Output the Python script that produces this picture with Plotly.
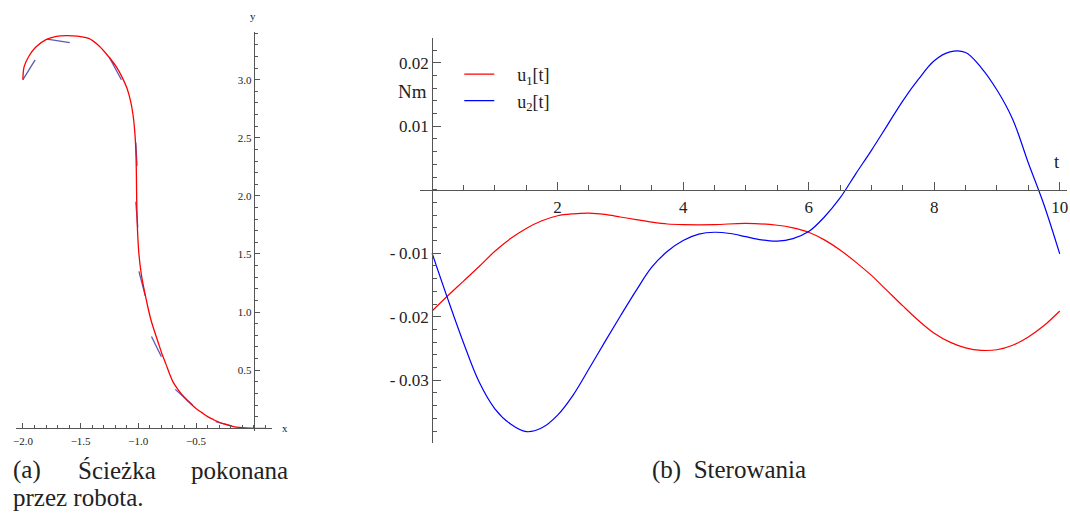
import plotly.graph_objects as go

W, H = 1070, 519

# ---------------- data: (a) path of the robot ----------------
path_x = [-2.0, -1.99, -1.95, -1.89, -1.80, -1.71, -1.625, -1.53, -1.43, -1.34,
          -1.255, -1.19, -1.14, -1.10, -1.068, -1.045, -1.03, -1.022, -1.018, -1.016,
          -1.013, -1.007, -0.995, -0.975, -0.955, -0.93, -0.89, -0.83, -0.795, -0.76,
          -0.73, -0.70, -0.65, -0.60, -0.55, -0.50, -0.45, -0.40, -0.35, -0.30,
          -0.25, -0.20, -0.15, -0.10, -0.05, 0.0]
path_y = [3.0, 3.11, 3.20, 3.28, 3.345, 3.373, 3.38, 3.375, 3.355, 3.29,
          3.195, 3.11, 3.02, 2.93, 2.82, 2.69, 2.54, 2.40, 2.25, 2.10,
          1.90, 1.70, 1.50, 1.33, 1.22, 1.10, 0.93, 0.745, 0.64, 0.55,
          0.47, 0.40, 0.325, 0.265, 0.215, 0.17, 0.135, 0.10, 0.075, 0.052,
          0.035, 0.021, 0.011, 0.005, 0.0015, 0.0]

# orientation segments (start / end)
seg_x0 = [-2.0, -1.79, -1.25, -1.022, -1.022, -0.995, -0.886, -0.68, -0.33, -0.16]
seg_y0 = [3.0, 3.35, 3.19, 2.46, 1.95, 1.35, 0.79, 0.335, 0.057, 0.0]
seg_x1 = [-1.894, -1.594, -1.147, -1.012, -1.005, -0.94, -0.80, -0.53, -0.19, 0.10]
seg_y1 = [3.17, 3.32, 3.0, 2.26, 1.73, 1.14, 0.615, 0.20, 0.02, 0.0]

left_xticks = [-2.0, -1.5, -1.0, -0.5]
left_xticklabels = ["\u22122.0", "\u22121.5", "\u22121.0", "\u22120.5"]
left_yticks = [0.5, 1.0, 1.5, 2.0, 2.5, 3.0]
left_yticklabels = ["0.5", "1.0", "1.5", "2.0", "2.5", "3.0"]

# ---------------- data: (b) controls ----------------
t_u1 = [0.0, 0.25, 0.5, 0.75, 1.0, 1.25, 1.5, 1.75, 2.0, 2.25, 2.5, 2.75, 3.0,
        3.25, 3.5, 3.75, 4.0, 4.5, 5.0, 5.5, 5.75, 6.0, 6.25, 6.5, 6.75, 7.0,
        7.25, 7.5, 7.75, 8.0, 8.25, 8.5, 8.75, 9.0, 9.25, 9.5, 9.75, 10.0]
u1 = [-0.0191, -0.0167, -0.0144, -0.0121, -0.0097, -0.0077, -0.0061, -0.0049,
      -0.0041, -0.0038, -0.0037, -0.0039, -0.0043, -0.0047, -0.0051, -0.0054,
      -0.0055, -0.0055, -0.0053, -0.0056, -0.0060, -0.0067, -0.0079, -0.0095,
      -0.0114, -0.0135, -0.0159, -0.0183, -0.0206, -0.0226, -0.0240, -0.0249,
      -0.0253, -0.0252, -0.0245, -0.0232, -0.0214, -0.0191]

t_u2 = [0.0, 0.25, 0.5, 0.75, 1.0, 1.25, 1.5, 1.75, 2.0, 2.25, 2.5, 2.75, 3.0,
        3.25, 3.5, 3.75, 4.0, 4.25, 4.5, 4.75, 5.0, 5.25, 5.5, 5.75, 6.0, 6.25,
        6.5, 6.75, 7.0, 7.25, 7.5, 7.75, 8.0, 8.25, 8.5, 8.75, 9.0, 9.25, 9.5,
        9.75, 10.0]
u2 = [-0.0100, -0.0172, -0.0241, -0.0303, -0.0345, -0.0369, -0.0381, -0.0375,
      -0.0355, -0.0323, -0.0282, -0.0240, -0.0199, -0.0159, -0.0122, -0.0097,
      -0.0080, -0.0070, -0.0067, -0.0069, -0.0074, -0.0079, -0.0081, -0.0077,
      -0.0066, -0.0043, -0.0013, 0.0025, 0.0062, 0.0101, 0.0140, 0.0174,
      0.0203, 0.0217, 0.0216, 0.0192, 0.0157, 0.0111, 0.0042, -0.0024, -0.0101]

right_xticks = [2, 4, 6, 8, 10]
right_xticklabels = ["2", "4", "6", "8", "10"]
right_yticks = [-0.03, -0.02, -0.01, 0.01, 0.02]
right_yticklabels = ["-\u20090.03", "-\u20090.02", "-\u20090.01", "0.01", "0.02"]

# ---------------- layout geometry (pixels) ----------------
LX0, LSX = 251.7, 115.85   # pixel of x=0, px per unit
LY0, LSY = 428.3, 116.2
L_xr = [-2.06, 0.16]
L_yr = [-0.02, 3.41]

RX0, RSX = 430.7, 63.0
RY0, RSY = 189.7, 6350.0
R_xr = [-0.2, 10.12]
R_yr = [-0.0399, 0.0239]

def xdom(x0, s, r):
    return [(x0 + r[0] * s) / W, (x0 + r[1] * s) / W]

def ydom(y0, s, r):
    return [(H - (y0 - r[0] * s)) / H, (H - (y0 - r[1] * s)) / H]

SERIF = "Liberation Serif, Times New Roman, serif"
AXC = "#555555"
TXT = "#222222"

fig = go.Figure()

# blue orientation segments (under the path)
sx, sy = [], []
for a, b, c, d in zip(seg_x0, seg_y0, seg_x1, seg_y1):
    sx += [a, c, None]
    sy += [b, d, None]
fig.add_trace(go.Scatter(x=sx, y=sy, mode="lines", xaxis="x", yaxis="y",
                         line=dict(color="#5a5ab8", width=1.3), showlegend=False,
                         hoverinfo="skip"))
fig.add_trace(go.Scatter(x=path_x, y=path_y, mode="lines", xaxis="x", yaxis="y",
                         line=dict(color="#ff0000", width=1.3, shape="spline", smoothing=1.0),
                         showlegend=False))

fig.add_trace(go.Scatter(x=t_u1, y=u1, mode="lines", xaxis="x2", yaxis="y2",
                         name="\u00a0\u00a0\u00a0\u00a0u<sub>1</sub>[t]",
                         line=dict(color="#ff0000", width=1.2, shape="spline", smoothing=1.0)))
fig.add_trace(go.Scatter(x=t_u2, y=u2, mode="lines", xaxis="x2", yaxis="y2",
                         name="\u00a0\u00a0\u00a0\u00a0u<sub>2</sub>[t]",
                         line=dict(color="#0000ff", width=1.2, shape="spline", smoothing=1.0)))

common = dict(showgrid=False, zeroline=False, showline=True, linecolor=AXC,
              linewidth=1, tickcolor=AXC, ticks="inside", fixedrange=True)

fig.update_layout(
    width=W, height=H, margin=dict(l=0, r=0, t=0, b=0),
    paper_bgcolor="white", plot_bgcolor="white",
    font=dict(family=SERIF, color=TXT),
    xaxis=dict(**common, domain=xdom(LX0, LSX, L_xr), range=L_xr, anchor="free",
               position=(H - LY0) / H, tickmode="array", tickvals=left_xticks,
               ticktext=left_xticklabels, ticklen=5, tickfont=dict(size=11, family=SERIF),
               ticklabelstandoff=2,
               minor=dict(tickmode="linear", tick0=0, dtick=0.1, ticks="inside",
                          ticklen=3, tickcolor=AXC, showgrid=False)),
    yaxis=dict(**common, domain=ydom(LY0, LSY, L_yr), range=L_yr, anchor="free",
               position=LX0 / W, tickmode="array", tickvals=left_yticks,
               ticktext=left_yticklabels, ticklen=5, tickfont=dict(size=11, family=SERIF),
               minor=dict(tickmode="linear", tick0=0, dtick=0.1, ticks="inside",
                          ticklen=3, tickcolor=AXC, showgrid=False)),
    xaxis2=dict(**common, domain=xdom(RX0, RSX, R_xr), range=R_xr, anchor="free",
                position=(H - RY0) / H, tickmode="array", tickvals=right_xticks,
                ticktext=right_xticklabels, ticklen=8, tickfont=dict(size=17, family=SERIF),
                ticklabelstandoff=2,
                minor=dict(tickmode="linear", tick0=0, dtick=0.5, ticks="inside",
                           ticklen=5, tickcolor=AXC, showgrid=False)),
    yaxis2=dict(**common, domain=ydom(RY0, RSY, R_yr), range=R_yr, anchor="free",
                position=RX0 / W, tickmode="array", tickvals=right_yticks,
                ticktext=right_yticklabels, ticklen=8, tickfont=dict(size=17, family=SERIF),
                minor=dict(tickmode="linear", tick0=0, dtick=0.002, ticks="inside",
                           ticklen=4, tickcolor=AXC, showgrid=False)),
    legend=dict(x=458 / W, y=(H - 56) / H, xanchor="left", yanchor="top",
                bgcolor="rgba(0,0,0,0)", font=dict(size=18, family=SERIF, color=TXT),
                itemwidth=30, tracegroupgap=0),
)

def ann(text, x, y, size, xanchor="center", yanchor="middle"):
    fig.add_annotation(text=text, x=x / W, y=(H - y) / H, xref="paper", yref="paper",
                       showarrow=False, xanchor=xanchor, yanchor=yanchor,
                       font=dict(size=size, family=SERIF, color=TXT))

ann("y", 251, 16, 11)
ann("x", 283, 428, 11)
ann("Nm", 411, 92, 19)
ann("t", 1058, 162, 19)

ann("(a)", 8, 470, 25, xanchor="left")
ann("\u015acie\u017cka", 114, 470, 25)
ann("pokonana", 288, 470, 25, xanchor="right")
ann("przez robota.", 8, 497, 25, xanchor="left")
ann("(b)\u2002Sterowania", 729, 470, 25)

fig.write_html("out.html")
